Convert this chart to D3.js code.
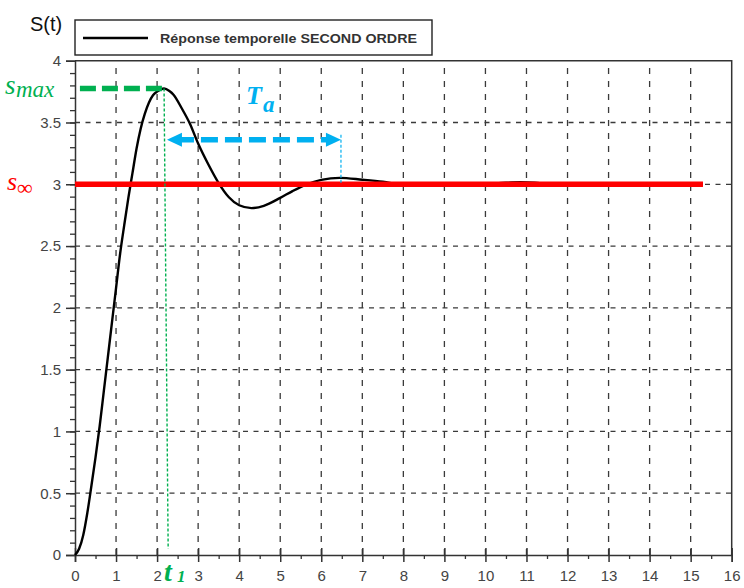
<!DOCTYPE html>
<html>
<head>
<meta charset="utf-8">
<script src="https://cdn.jsdelivr.net/npm/d3@7/dist/d3.min.js"></script>
<style>
  html, body { margin: 0; padding: 0; background: #fff; }
  svg { display: block; }
</style>
</head>
<body>
<script>
// Step response of a second-order system (time in s, output S(t))
const time = [0, 0.1, 0.2, 0.3, 0.4, 0.5, 0.6, 0.7, 0.8, 0.9, 1.0, 1.1, 1.2, 1.3, 1.4, 1.5,
  1.6, 1.7, 1.8, 1.9, 2.0, 2.17, 2.3, 2.4, 2.6, 2.8, 3.0, 3.25, 3.5, 3.75, 4.0, 4.3, 4.6,
  5.0, 5.3, 5.65, 6.0, 6.45, 7.0, 7.5, 8.0, 8.6, 9.5, 10.0, 10.5, 10.85, 11.2, 11.6,
  12.5, 13.5, 14.5, 15.3];
const response = [0, 0.05, 0.16, 0.34, 0.56, 0.79, 1.04, 1.32, 1.60, 1.88, 2.16, 2.44, 2.67,
  2.89, 3.09, 3.29, 3.45, 3.57, 3.66, 3.72, 3.75, 3.775, 3.755, 3.725, 3.615, 3.49, 3.33,
  3.16, 3.01, 2.895, 2.83, 2.807, 2.826, 2.89, 2.945, 3.0, 3.035, 3.052, 3.037, 3.02,
  2.995, 2.99, 2.995, 3.0, 3.012, 3.016, 3.012, 3.0, 2.998, 3.0, 3.0, 3.0];

// Axis ticks
const xTicks = [0, 1, 2, 3, 4, 5, 6, 7, 8, 9, 10, 11, 12, 13, 14, 15, 16];
const yTicks = [0, 0.5, 1, 1.5, 2, 2.5, 3, 3.5, 4];
const xMinorTicks = [0.5, 1.5, 2.5, 3.5, 4.5, 5.5, 6.5, 7.5, 8.5, 9.5, 10.5, 11.5, 12.5, 13.5, 14.5, 15.5];
const yMinorTicks = d3.range(1, 40).map(i => i / 10);

// Characteristic values
const sInf = 3;          // steady-state value
const sMax = 3.775;      // first overshoot peak
const tPeak = 2.17;      // t1, time of the peak
const tPeakFoot = 2.27;
const taStart = 2.24, taEnd = 6.48, taLevel = 3.36;  // pseudo-period arrow
const legendLabel = "Réponse temporelle SECOND ORDRE";

const W = 744, H = 588;
const margin = { top: 60.7, right: 12.3, bottom: 33, left: 75 };

const svg = d3.select("body").append("svg")
  .attr("width", W).attr("height", H)
  .attr("font-family", "'Liberation Sans', Arial, sans-serif");

const x = d3.scaleLinear().domain([0, 16]).range([margin.left, W - margin.right]);
const y = d3.scaleLinear().domain([0, 4]).range([H - margin.bottom, margin.top]);

const axisColor = "#333";
const gridColor = "#3a3a3a";

// Grid
const grid = svg.append("g");
grid.selectAll("line.v").data(xTicks.filter(d => d > 0 && d < 16)).join("line")
  .attr("x1", d => x(d)).attr("x2", d => x(d))
  .attr("y1", y(0)).attr("y2", y(4))
  .attr("stroke", gridColor).attr("stroke-width", 1.3).attr("stroke-dasharray", "6,7");
grid.selectAll("line.h").data(yTicks.filter(d => d > 0 && d < 4)).join("line")
  .attr("x1", x(0)).attr("x2", x(16))
  .attr("y1", d => y(d)).attr("y2", d => y(d))
  .attr("stroke", gridColor).attr("stroke-width", 1.3).attr("stroke-dasharray", "5,5.5");

// Frame (top and right edges)
svg.append("path")
  .attr("d", `M${x(0)},${y(4)}H${x(16)}V${y(0)}`)
  .attr("fill", "none").attr("stroke", axisColor).attr("stroke-width", 1.5);

// Minor ticks
const xMinorAxis = d3.axisBottom(x).tickValues(xMinorTicks).tickSize(4).tickFormat("");
svg.append("g").attr("transform", `translate(0,${y(0)})`).call(xMinorAxis)
  .call(g => g.select(".domain").remove())
  .call(g => g.selectAll("line").attr("stroke", axisColor).attr("stroke-width", 1.3));
const yMinorAxis = d3.axisLeft(y).tickValues(yMinorTicks).tickSize(5).tickFormat("");
svg.append("g").attr("transform", `translate(${x(0)},0)`).call(yMinorAxis)
  .call(g => g.select(".domain").remove())
  .call(g => g.selectAll("line").attr("stroke", axisColor).attr("stroke-width", 1.3));

// Major ticks crossing the x axis (inner half)
const xInner = d3.axisTop(x).tickValues(xTicks).tickSize(7).tickFormat("");
svg.append("g").attr("transform", `translate(0,${y(0)})`).call(xInner)
  .call(g => g.select(".domain").remove())
  .call(g => g.selectAll("line").attr("stroke", axisColor).attr("stroke-width", 1.5));

// Main axes with labels
const xAxis = d3.axisBottom(x).tickValues(xTicks).tickSize(7).tickPadding(8).tickFormat(d3.format("d"));
svg.append("g").attr("transform", `translate(0,${y(0)})`).call(xAxis)
  .call(g => g.select(".domain").attr("stroke", axisColor).attr("stroke-width", 1.5))
  .call(g => g.selectAll("line").attr("stroke", axisColor).attr("stroke-width", 1.5))
  .call(g => g.selectAll("text").attr("fill", "#444").attr("font-size", 15)
    .attr("font-family", "'Liberation Sans', Arial, sans-serif"));

const yAxis = d3.axisLeft(y).tickValues(yTicks).tickSize(9).tickPadding(5).tickFormat(d => String(d));
svg.append("g").attr("transform", `translate(${x(0)},0)`).call(yAxis)
  .call(g => g.select(".domain").attr("stroke", axisColor).attr("stroke-width", 1.5))
  .call(g => g.selectAll("line").attr("stroke", axisColor).attr("stroke-width", 1.5))
  .call(g => g.selectAll("text").attr("fill", "#444").attr("font-size", 15)
    .attr("font-family", "'Liberation Sans', Arial, sans-serif"));

// Response curve
const points = time.map((t, i) => [t, response[i]]);
const line = d3.line().x(d => x(d[0])).y(d => y(d[1])).curve(d3.curveMonotoneX);
svg.append("path").datum(points)
  .attr("d", line)
  .attr("fill", "none").attr("stroke", "#000").attr("stroke-width", 2.4);

// Steady-state level
svg.append("line")
  .attr("x1", x(0)).attr("x2", x(time[time.length - 1]))
  .attr("y1", y(sInf)).attr("y2", y(sInf))
  .attr("stroke", "#ff0000").attr("stroke-width", 5.5);

// Peak marker: thick horizontal dash and thin vertical to the time axis
const green = "#00b050";
svg.append("line")
  .attr("x1", x(0.12)).attr("x2", x(tPeak))
  .attr("y1", y(sMax)).attr("y2", y(sMax))
  .attr("stroke", green).attr("stroke-width", 5.5).attr("stroke-dasharray", "16,6");
svg.append("line")
  .attr("x1", x(tPeak)).attr("x2", x(tPeakFoot))
  .attr("y1", y(sMax)).attr("y2", y(0.05))
  .attr("stroke", green).attr("stroke-width", 1.4).attr("stroke-dasharray", "3,2");

// Pseudo-period arrow
const blue = "#00b0f0";
const ay = y(taLevel);
svg.append("line")
  .attr("x1", x(taStart) + 10).attr("x2", x(taEnd) - 10)
  .attr("y1", ay).attr("y2", ay)
  .attr("stroke", blue).attr("stroke-width", 5.5).attr("stroke-dasharray", "17,7");
const head = 15, half = 7;
svg.append("path")
  .attr("d", `M${x(taStart)},${ay}L${x(taStart) + head},${ay - half}L${x(taStart) + head},${ay + half}Z`)
  .attr("fill", blue);
svg.append("path")
  .attr("d", `M${x(taEnd)},${ay}L${x(taEnd) - head},${ay - half}L${x(taEnd) - head},${ay + half}Z`)
  .attr("fill", blue);
svg.append("line")
  .attr("x1", x(taEnd)).attr("x2", x(taEnd))
  .attr("y1", ay - 5).attr("y2", y(sInf))
  .attr("stroke", blue).attr("stroke-width", 1.2).attr("stroke-dasharray", "3,2");

// Math-style annotation labels
const serif = "'Liberation Serif', 'Times New Roman', serif";
const smax = svg.append("text").attr("font-family", serif).attr("font-style", "italic").attr("fill", green);
smax.append("tspan").attr("x", 5).attr("y", 94).attr("font-size", 27).text("s");
smax.append("tspan").attr("x", 16).attr("y", 97).attr("font-size", 23).text("max");

const sinf = svg.append("text").attr("font-family", serif).attr("font-style", "italic").attr("fill", "#ff0000");
sinf.append("tspan").attr("x", 7).attr("y", 190).attr("font-size", 26).text("s");
sinf.append("tspan").attr("x", 17).attr("y", 195).attr("font-size", 22).attr("font-style", "normal").text("∞");

const ta = svg.append("text").attr("font-family", serif).attr("font-style", "italic")
  .attr("font-weight", "bold").attr("fill", blue);
ta.append("tspan").attr("x", 246).attr("y", 104).attr("font-size", 26).text("T");
ta.append("tspan").attr("x", 263).attr("y", 112).attr("font-size", 23).text("a");

const t1 = svg.append("text").attr("font-family", serif).attr("font-style", "italic")
  .attr("font-weight", "bold").attr("fill", green);
t1.append("tspan").attr("x", 164).attr("y", 581).attr("font-size", 28).text("t");
t1.append("tspan").attr("x", 177).attr("y", 582).attr("font-size", 17).text("1");

// Y axis title
svg.append("text").attr("x", 30).attr("y", 31).attr("font-size", 20).attr("fill", "#111")
  .text("S(t)");

// Legend
const lg = svg.append("g");
lg.append("rect").attr("x", 75).attr("y", 20).attr("width", 357).attr("height", 35)
  .attr("fill", "#fff").attr("stroke", "#222").attr("stroke-width", 1.4);
lg.append("line").attr("x1", 83).attr("x2", 148).attr("y1", 38).attr("y2", 38)
  .attr("stroke", "#000").attr("stroke-width", 2.5);
lg.append("text").attr("x", 160).attr("y", 42.5).attr("font-size", 13).attr("font-weight", "bold")
  .attr("fill", "#333").attr("textLength", 257).attr("lengthAdjust", "spacingAndGlyphs")
  .text(legendLabel);
</script>
</body>
</html>
